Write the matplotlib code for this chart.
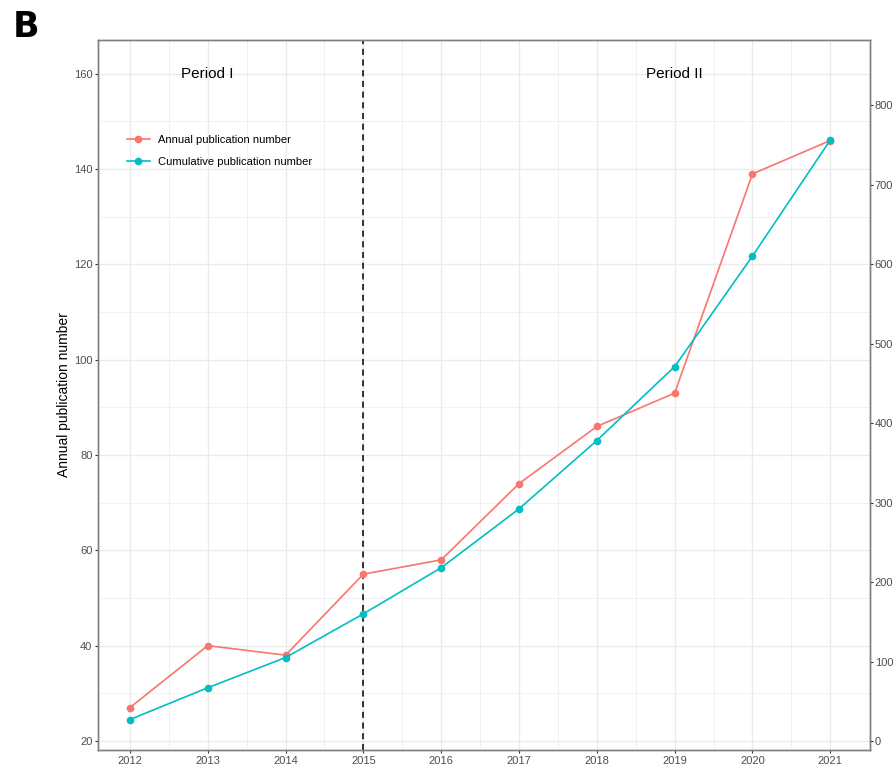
import numpy as np
import matplotlib
matplotlib.use("Agg")
import matplotlib.pyplot as plt

plt.rcParams["font.family"] = ["Liberation Sans", "DejaVu Sans"]

years = [2012, 2013, 2014, 2015, 2016, 2017, 2018, 2019, 2020, 2021]
annual = [27, 40, 38, 55, 58, 74, 86, 93, 139, 146]
cumulative = [27, 67, 105, 160, 218, 292, 378, 471, 610, 756]
left_ticks = [20, 40, 60, 80, 100, 120, 140, 160]
right_ticks = [0, 100, 200, 300, 400, 500, 600, 700, 800]

red = "#F8766D"
cyan = "#00BFC4"
grid = "#EBEBEB"
border = "#7F7F7F"
tickcol = "#4D4D4D"

fig = plt.figure(figsize=(8.94, 7.66), dpi=100)
ax = fig.add_axes([98 / 894, 1 - 750 / 766, 772 / 894, 710 / 766])
ax2 = ax.twinx()

# grid (theme_bw style)
ax.set_xticks(years)
ax.set_xticks([y + 0.5 for y in years[:-1]], minor=True)
ax.set_yticks(left_ticks)
ax.set_yticks([30, 50, 70, 90, 110, 130, 150], minor=True)
ax2.set_yticks(right_ticks)

ax.set_xlim(2011.59, 2021.51)
ax.set_ylim(18.1, 167.1)
ax2.set_ylim(-11.3, 881.8)

ax.grid(which="major", color=grid, linewidth=1.0)
ax.grid(which="minor", color=grid, linewidth=0.5)
ax.set_axisbelow(True)
ax.tick_params(which="minor", length=0)
ax.tick_params(which="major", length=2.5, width=0.8, color="#333333",
               labelsize=8, labelcolor=tickcol, pad=1.5)
ax2.tick_params(which="major", length=2.5, width=0.8, color="#333333",
                labelsize=8, labelcolor=tickcol, pad=1)

for a in (ax, ax2):
    for s in a.spines.values():
        s.set_color(border)
        s.set_linewidth(1.0)

ax.axvline(2015, color="black", linestyle=(0, (4, 3)), linewidth=1.1, zorder=1)

l1, = ax.plot(years, annual, color=red, linewidth=1.2, marker="o",
              markersize=4.5, label="Annual publication number", zorder=3)
l2, = ax2.plot(years, cumulative, color=cyan, linewidth=1.2, marker="o",
               markersize=4.5, label="Cumulative publication number", zorder=3)

ax.text(2013, 160, "Period I", ha="center", va="center", fontsize=11)
ax.text(2019, 160, "Period II", ha="center", va="center", fontsize=11)

ax.legend(handles=[l1, l2], loc="upper left", bbox_to_anchor=(0.025, 0.88),
          frameon=False, fontsize=8, handlelength=2.0, labelspacing=1.05)

ax.set_ylabel("Annual publication number", fontsize=10, labelpad=2)

fig.text(0.014, 0.965, "B", fontsize=25, fontweight="bold", va="center",
         family=["DejaVu Sans"])

fig.savefig("out.png", dpi=100)
